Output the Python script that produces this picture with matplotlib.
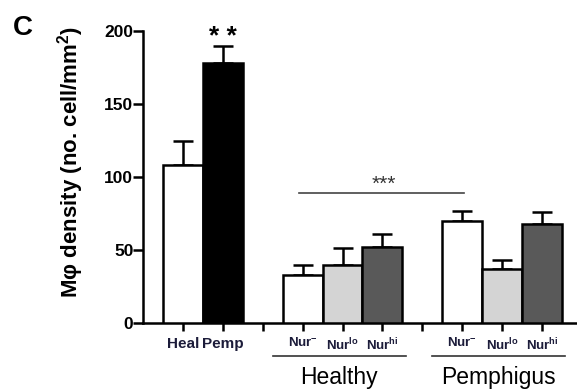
import matplotlib
matplotlib.use('Agg')
import matplotlib.pyplot as plt
import matplotlib.transforms as mtrans

plt.rcParams['font.family'] = ['Liberation Sans', 'DejaVu Sans']
plt.rcParams['mathtext.fontset'] = 'custom'
plt.rcParams['mathtext.rm'] = 'Liberation Sans'
plt.rcParams['mathtext.bf'] = 'Liberation Sans:bold'

# data
top_labels = ['Heal', 'Pemp']
top_vals = [108, 178]
top_err = [17, 12]

nur_labels = [r'Nur$^{\mathbf{-}}$', r'Nur$^{\mathbf{lo}}$', r'Nur$^{\mathbf{hi}}$']
healthy_vals = [33, 40, 52]
healthy_err = [7, 11, 9]
pemph_vals = [70, 37, 68]
pemph_err = [7, 6, 8]
nur_colours = ['white', '#d4d4d4', '#595959']

fig = plt.figure(figsize=(5.77, 3.89), dpi=100)
ax = fig.add_axes([0.248, 0.170, 0.752, 0.750])

pos_top = [1, 2]
pos_h = [4, 5, 6]
pos_p = [8, 9, 10]

bar_kw = dict(width=1.0, edgecolor='black', linewidth=1.8, zorder=3)
err_kw = dict(fmt='none', ecolor='black', elinewidth=1.8, capsize=7, capthick=1.8, zorder=2)

ax.bar(pos_top, top_vals, color=['white', 'black'], **bar_kw)
ax.errorbar(pos_top, top_vals, yerr=[[0]*2, top_err], **err_kw)
ax.bar(pos_h, healthy_vals, color=nur_colours, **bar_kw)
ax.errorbar(pos_h, healthy_vals, yerr=[[0]*3, healthy_err], **err_kw)
ax.bar(pos_p, pemph_vals, color=nur_colours, **bar_kw)
ax.errorbar(pos_p, pemph_vals, yerr=[[0]*3, pemph_err], **err_kw)

ax.set_xlim(0, 10.88)
ax.set_ylim(0, 200)
ax.set_yticks([0, 50, 100, 150, 200])
for t in ax.get_yticklabels():
    t.set_fontweight('bold')
ax.tick_params(axis='y', labelsize=12.5, width=1.8, length=7, pad=0)

ticks = [1, 2, 3, 4, 5, 6, 7, 8, 9, 10]
ax.set_xticks(ticks)
ax.set_xticklabels(top_labels + [''] + nur_labels + [''] + nur_labels,
                   fontweight='bold', color='#1c1c3a')
for t in ax.get_xticklabels()[:2]:
    t.set_fontsize(11)
for t in ax.get_xticklabels()[2:]:
    t.set_fontsize(9.5)
ax.tick_params(axis='x', width=1.8, length=6, pad=4)

for s in ['top', 'right']:
    ax.spines[s].set_visible(False)
ax.spines['left'].set_linewidth(1.8)
ax.spines['bottom'].set_linewidth(1.8)

ax.set_ylabel(r'M$\mathbf{\varphi}$ density (no. cell/mm$^\mathbf{2}$)',
              fontsize=16, fontweight='bold')
ax.yaxis.set_label_coords(-0.132, 0.553)

# significance marks
ax.text(2, 191, '* *', ha='center', va='baseline', fontsize=19, fontweight='bold')
ax.plot([3.9, 8.05], [89, 89], color='#444444', linewidth=1.2, zorder=1)
ax.text(6.03, 91, '***', ha='center', va='baseline', fontsize=15, color='#333333')

# group lines and labels under the axis
trans = mtrans.blended_transform_factory(ax.transData, ax.transAxes)
ax.plot([3.26, 6.59], [-0.115, -0.115], color='#333333', linewidth=1.2,
        transform=trans, clip_on=False)
ax.plot([7.24, 10.58], [-0.115, -0.115], color='#333333', linewidth=1.2,
        transform=trans, clip_on=False)
ax.text(4.92, -0.211, 'Healthy', transform=trans, ha='center', va='baseline', fontsize=16.5)
ax.text(8.91, -0.211, 'Pemphigus', transform=trans, ha='center', va='baseline', fontsize=16.5)

fig.text(23 / 577, 1 - 35 / 389, 'C', fontsize=20, fontweight='bold', ha='center', va='baseline')

fig.savefig('out.png', dpi=100)
